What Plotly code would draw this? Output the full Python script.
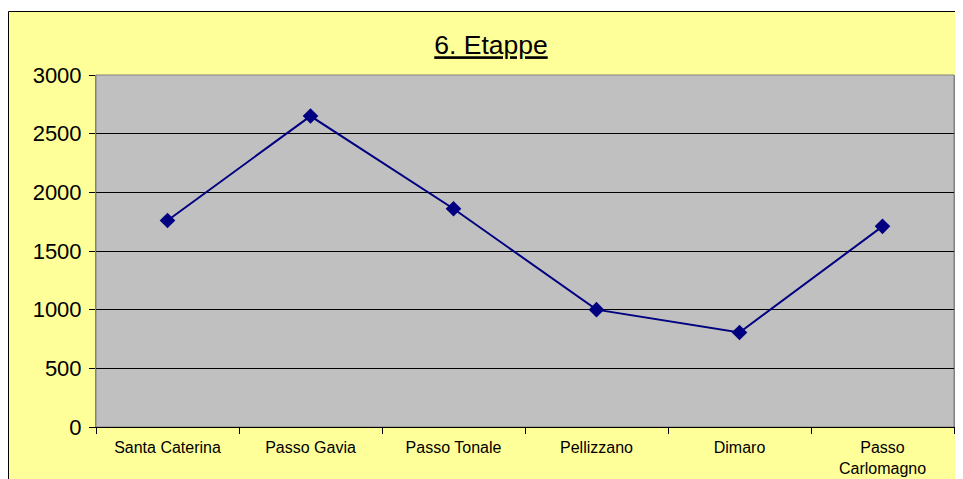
import plotly.graph_objects as go

categories = ["Santa Caterina", "Passo Gavia", "Passo Tonale", "Pellizzano", "Dimaro", "Passo<br>Carlomagno"]
heights = [1760, 2650, 1860, 1000, 805, 1710]
y_ticks = [0, 500, 1000, 1500, 2000, 2500, 3000]
title_text = "6. Etappe"

# page has an 8px body margin; figure coords are window coords minus 8
W, H = 955, 471
L, R, T, B = 88, 9, 67, 52
pw, ph = W - L - R, H - T - B

def px_x(p):
    return (p - L) / pw

def px_y(p):
    return (H - B - p) / ph

fig = go.Figure()
fig.add_trace(go.Scatter(
    x=categories, y=heights, mode="lines+markers",
    line=dict(color="#000080", width=2),
    marker=dict(symbol="diamond", size=12, color="#000080"),
    showlegend=False, cliponaxis=False,
))

# chart area (yellow with black border)
fig.add_shape(type="rect", xref="paper", yref="paper",
              x0=px_x(0.5), x1=px_x(1000), y0=px_y(520), y1=px_y(3.5),
              fillcolor="#FFFF99", line=dict(color="black", width=1), layer="below")
# plot area (gray)
fig.add_shape(type="rect", xref="paper", yref="paper",
              x0=0, x1=1, y0=0, y1=1,
              fillcolor="#C0C0C0", line=dict(color="#808080", width=1), layer="below")

fig.update_layout(
    width=W, height=H,
    margin=dict(l=L, r=R, t=T, b=B, autoexpand=False),
    paper_bgcolor="white",
    plot_bgcolor="rgba(0,0,0,0)",
    font=dict(family="Liberation Sans, Arial, sans-serif", color="black"),
    title=dict(text="<u>" + title_text + "</u>", x=px_x(483), xref="paper", xanchor="center",
               y=1 - 37 / H, yref="container", yanchor="middle",
               font=dict(size=26.5, color="black")),
    xaxis=dict(
        type="category", tickson="boundaries", ticks="outside", ticklen=6, tickcolor="black",
        showgrid=False, showline=True, linecolor="black", linewidth=1,
        tickfont=dict(size=16), range=[-0.5, 5.5], ticklabelstandoff=6, automargin=False,
    ),
    yaxis=dict(
        range=[0, 3000], tickvals=y_ticks, ticks="outside", ticklen=6, tickcolor="black",
        showgrid=True, gridcolor="black", gridwidth=1, zeroline=False,
        showline=True, linecolor="#808080", linewidth=1, mirror=True,
        tickfont=dict(size=22), ticklabelstandoff=3, automargin=False,
    ),
)

fig.write_html("out.html")
